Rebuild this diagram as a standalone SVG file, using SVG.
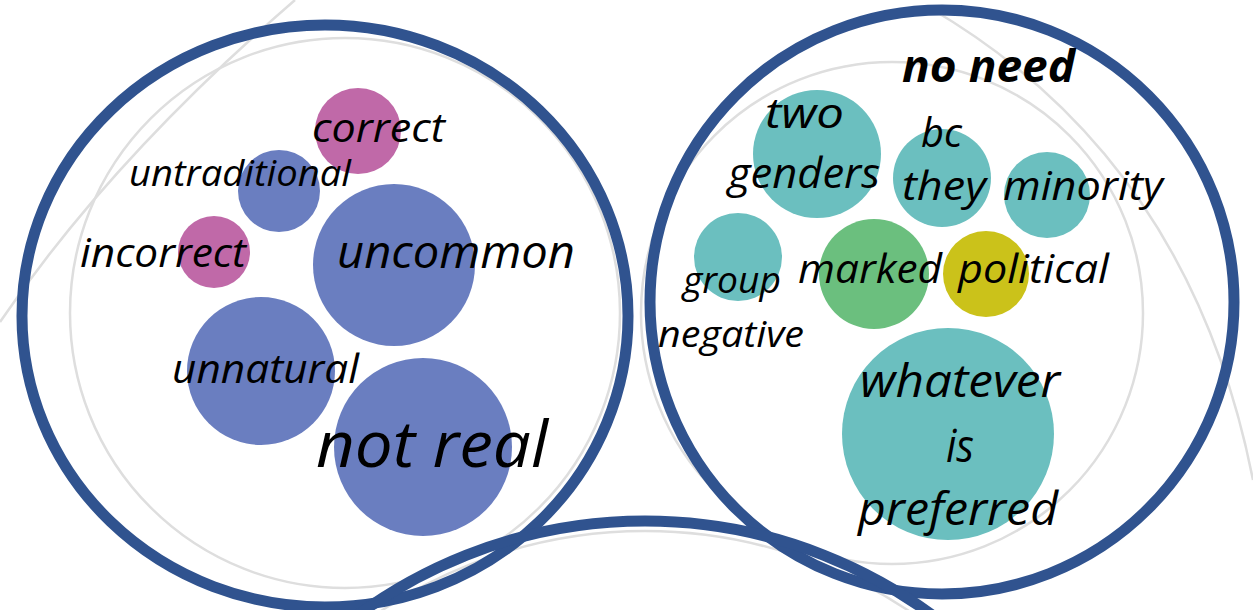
<svg xmlns="http://www.w3.org/2000/svg" width="1253" height="610" viewBox="0 0 1253 610">
<style>
.ring{fill:none;stroke:#30538f;stroke-width:11}
.guide{fill:none;stroke:#dedede;stroke-width:2.5}
.blue{fill:#6a7ec0}
.pink{fill:#c069a8}
.teal{fill:#6bbfbf}
.green{fill:#6bbf7e}
.yellow{fill:#cbc21a}
text{font-family:"Open Sans","Noto Sans","Liberation Sans",sans-serif;font-style:italic;fill:#000}
.b{font-weight:bold}
</style>
<rect width="1253" height="610" fill="#ffffff"/>
<g id="guides">
<path class="guide" d="M0,322 Q110,160 295,0"/>
<circle class="guide" cx="345" cy="313" r="275"/>
<circle class="guide" cx="892" cy="313" r="251"/>
<path class="guide" d="M930,8 Q1190,160 1253,480"/>
<circle class="guide" cx="645" cy="1006" r="475"/>
</g>
<g id="left-group">
<ellipse class="ring" cx="325" cy="316" rx="303" ry="291"/>
</g>
<g id="right-group">
<circle class="ring" cx="942" cy="302" r="292"/>
</g>
<g id="bottom-group">
<circle class="ring" cx="645" cy="1006" r="485"/>
</g>
<g id="node-correct"><circle class="pink" cx="358" cy="131" r="43"/></g>
<g id="node-untraditional"><circle class="blue" cx="279" cy="191" r="41"/></g>
<g id="node-incorrect"><circle class="pink" cx="214" cy="252" r="36"/></g>
<g id="node-uncommon"><circle class="blue" cx="394" cy="265" r="81"/></g>
<g id="node-unnatural"><circle class="blue" cx="261" cy="371" r="74"/></g>
<g id="node-notreal"><circle class="blue" cx="423" cy="447" r="89"/></g>
<g id="node-twogenders"><circle class="teal" cx="817" cy="154" r="64"/></g>
<g id="node-bcthey"><circle class="teal" cx="942" cy="178" r="49"/></g>
<g id="node-minority"><circle class="teal" cx="1047" cy="195" r="43"/></g>
<g id="node-group"><circle class="teal" cx="738" cy="257" r="44"/></g>
<g id="node-marked"><circle class="green" cx="874" cy="274" r="55"/></g>
<g id="node-political"><circle class="yellow" cx="986" cy="274" r="43"/></g>
<g id="node-whatever"><circle class="teal" cx="948" cy="434" r="106"/></g>
<g id="labels">
<text x="312" y="142" font-size="40" textLength="133" lengthAdjust="spacingAndGlyphs">correct</text>
<text x="129" y="186" font-size="36" textLength="222" lengthAdjust="spacingAndGlyphs">untraditional</text>
<text x="80" y="267" font-size="40" textLength="166" lengthAdjust="spacingAndGlyphs">incorrect</text>
<text x="337" y="268" font-size="45" textLength="238" lengthAdjust="spacingAndGlyphs">uncommon</text>
<text x="172" y="383" font-size="41" textLength="187" lengthAdjust="spacingAndGlyphs">unnatural</text>
<text x="316" y="467" font-size="64" textLength="232" lengthAdjust="spacingAndGlyphs">not real</text>
<text class="b" x="902" y="82" font-size="44" textLength="173" lengthAdjust="spacingAndGlyphs">no need</text>
<text x="765" y="128" font-size="42" textLength="79" lengthAdjust="spacingAndGlyphs">two</text>
<text x="728" y="188" font-size="42" textLength="152" lengthAdjust="spacingAndGlyphs">genders</text>
<text x="921" y="147" font-size="41" textLength="41" lengthAdjust="spacingAndGlyphs">bc</text>
<text x="902" y="200" font-size="41" textLength="84" lengthAdjust="spacingAndGlyphs">they</text>
<text x="1003" y="200" font-size="41" textLength="160" lengthAdjust="spacingAndGlyphs">minority</text>
<text x="683" y="293" font-size="36" textLength="98" lengthAdjust="spacingAndGlyphs">group</text>
<text x="658" y="347" font-size="37" textLength="146" lengthAdjust="spacingAndGlyphs">negative</text>
<text x="798" y="283" font-size="41" textLength="144" lengthAdjust="spacingAndGlyphs">marked</text>
<text x="958" y="283" font-size="41" textLength="151" lengthAdjust="spacingAndGlyphs">political</text>
<text x="860" y="397" font-size="46" textLength="200" lengthAdjust="spacingAndGlyphs">whatever</text>
<text x="946" y="462" font-size="46" textLength="28" lengthAdjust="spacingAndGlyphs">is</text>
<text x="858" y="525" font-size="46" textLength="200" lengthAdjust="spacingAndGlyphs">preferred</text>
</g>
</svg>
